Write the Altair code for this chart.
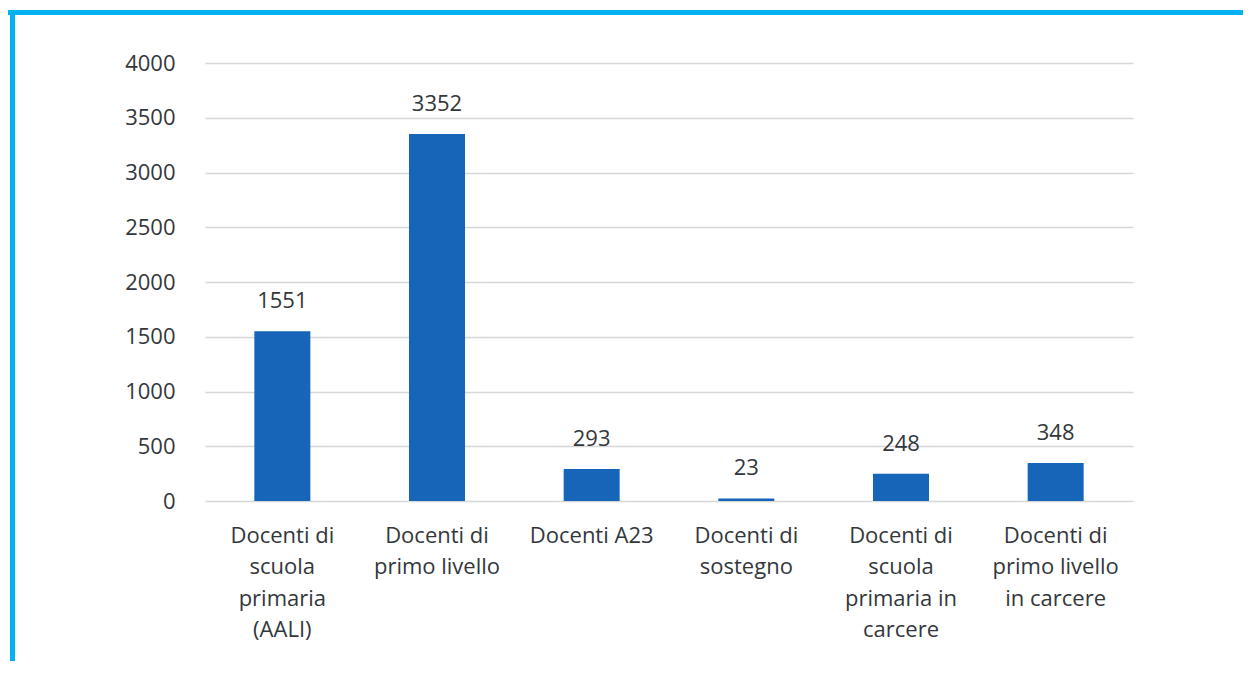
import altair as alt
import pandas as pd

categories = [
    "Docenti di\nscuola\nprimaria\n(AALI)",
    "Docenti di\nprimo livello",
    "Docenti A23",
    "Docenti di\nsostegno",
    "Docenti di\nscuola\nprimaria in\ncarcere",
    "Docenti di\nprimo livello\nin carcere",
]
values = [1551, 3352, 293, 23, 248, 348]
y_ticks = [0, 500, 1000, 1500, 2000, 2500, 3000, 3500, 4000]

df = pd.DataFrame({"cat": categories, "val": values})

FONT = "Open Sans"
TXT = "#33373c"
BLUE = "#1765b8"
CYAN = "#00b0f0"
FS = 22

PW, PH = 928, 438

base = alt.Chart(df).encode(
    x=alt.X(
        "cat:N",
        sort=categories,
        title=None,
        axis=alt.Axis(
            labelExpr="split(datum.label, '\\n')",
            labelAngle=0,
            labelFont=FONT,
            labelFontSize=FS,
            labelColor=TXT,
            labelLineHeight=31.5,
            labelPadding=24,
            labelBaseline="top",
            ticks=False,
            domain=False,
            grid=False,
        ),
    ),
    y=alt.Y(
        "val:Q",
        title=None,
        scale=alt.Scale(domain=[0, 4000], nice=False),
        axis=alt.Axis(
            values=y_ticks,
            format="d",
            labelFont=FONT,
            labelFontSize=FS,
            labelColor=TXT,
            labelPadding=30,
            ticks=False,
            domain=False,
            grid=True,
            gridColor="#d6d6d6",
            gridWidth=1.6,
        ),
    ),
)

bars = base.mark_bar(color=BLUE, size=56)
labels = base.mark_text(
    dy=-30, font=FONT, fontSize=FS, color=TXT, baseline="middle"
).encode(text="val:Q")

frame_df = pd.DataFrame({"k": [0]})
top_border = alt.Chart(frame_df).mark_rule(color=CYAN, strokeWidth=5).encode(
    x=alt.value(-197.5), x2=alt.value(1260 - 205), y=alt.value(-50.5)
)
left_border = alt.Chart(frame_df).mark_rule(color=CYAN, strokeWidth=5).encode(
    x=alt.value(-192.5), y=alt.value(-53), y2=alt.value(690 - 63)
)

chart = (
    alt.layer(bars, labels, top_border, left_border)
    .properties(
        width=PW,
        height=PH,
        background="white",
        autosize=alt.AutoSizeParams(type="none"),
        padding={"left": 197, "top": 55, "right": 110, "bottom": 160},
    )
    .configure_view(stroke=None, strokeWidth=0)
)

chart.save("out.html", embed_options={"renderer": "svg", "actions": False})
